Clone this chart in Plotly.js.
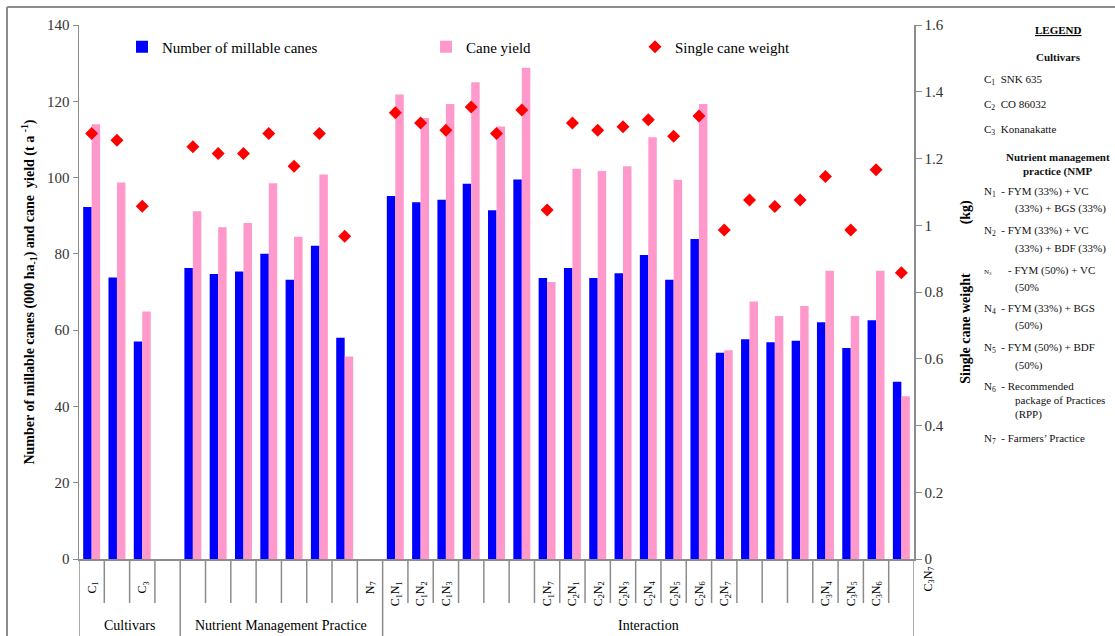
<!DOCTYPE html>
<html>
<head>
<meta charset="utf-8">
<script src="https://cdn.plot.ly/plotly-3.0.1.min.js"></script>
<style>html,body{margin:0;padding:0;background:#fff;}#chart{width:1115px;height:636px;}</style>
</head>
<body>
<div id="chart"></div>
<script>
// ---- data ----
const categories = ["C1","C2","C3","gap-a",
  "N1","N2","N3","N4","N5","N6","N7","gap-b",
  "C1N1","C1N2","C1N3","C1N4","C1N5","C1N6","C1N7",
  "C2N1","C2N2","C2N3","C2N4","C2N5","C2N6","C2N7",
  "C3N1","C3N2","C3N3","C3N4","C3N5","C3N6","C3N7"];
const millableCanes = [92.3, 73.8, 57.0, null,
  76.3, 74.7, 75.4, 80.0, 73.2, 82.1, 58.0, null,
  95.2, 93.5, 94.2, 98.4, 91.4, 99.5, 73.7,
  76.3, 73.7, 74.9, 79.7, 73.2, 83.9, 54.1,
  57.6, 56.8, 57.2, 62.1, 55.3, 62.6, 46.5];
const caneYield = [114.0, 98.7, 64.9, null,
  91.2, 87.0, 88.1, 98.5, 84.5, 100.8, 53.1, null,
  121.8, 115.6, 119.3, 125.0, 113.4, 128.8, 72.6,
  102.3, 101.7, 103.0, 110.6, 99.4, 119.3, 54.7,
  67.5, 63.7, 66.3, 75.6, 63.7, 75.6, 42.7];
const singleCaneWeight = [1.275, 1.255, 1.057, null,
  1.235, 1.215, 1.215, 1.275, 1.177, 1.275, 0.967, null,
  1.337, 1.306, 1.285, 1.354, 1.275, 1.345, 1.046,
  1.306, 1.285, 1.295, 1.316, 1.267, 1.327, 0.986,
  1.076, 1.056, 1.076, 1.146, 0.986, 1.166, 0.858];
// tick labels as they appear in the reference (only some categories labelled)
const tickCats = ["C1","C3","gap-b","C1N1","C1N2","C1N3",
  "C1N7","C2N1","C2N2","C2N3","C2N4","C2N5","C2N6","C2N7",
  "C3N4","C3N5","C3N6"];
const tickLabels = ["C<sub>1</sub>","C<sub>3</sub>","N<sub>7</sub>",
  "C<sub>1</sub>N<sub>1</sub>","C<sub>1</sub>N<sub>2</sub>","C<sub>1</sub>N<sub>3</sub>",
  "C<sub>1</sub>N<sub>7</sub>","C<sub>2</sub>N<sub>1</sub>","C<sub>2</sub>N<sub>2</sub>","C<sub>2</sub>N<sub>3</sub>",
  "C<sub>2</sub>N<sub>4</sub>","C<sub>2</sub>N<sub>5</sub>","C<sub>2</sub>N<sub>6</sub>","C<sub>2</sub>N<sub>7</sub>",
  "C<sub>3</sub>N<sub>4</sub>","C<sub>3</sub>N<sub>5</sub>","C<sub>3</sub>N<sub>6</sub>"];
const groupNames = ["Cultivars","Nutrient Management Practice","Interaction"];
const groupSizes = [4, 8, 21];
const legendTitle = "LEGEND";
const legendLines = [
  ["head","<b>Cultivars</b>"],
  ["item","C<sub>1</sub>  SNK 635"],
  ["item","C<sub>2</sub>  CO 86032"],
  ["item","C<sub>3</sub>  Konanakatte"],
  ["head","<b>Nutrient management</b>"],
  ["head2","<b>practice (NMP</b>"],
  ["item","N<sub>1</sub>  - FYM (33%) + VC"],
  ["cont","(33%) + BGS (33%)"],
  ["item","N<sub>2</sub>  - FYM (33%) + VC"],
  ["cont","(33%) + BDF (33%)"],
  ["item","<span style='font-size:7px'>N<sub>3</sub></span>      - FYM (50%) + VC"],
  ["cont","(50%"],
  ["item","N<sub>4</sub>  - FYM (33%) + BGS"],
  ["cont","(50%)"],
  ["item","N<sub>5</sub>  - FYM (50%) + BDF"],
  ["cont","(50%)"],
  ["item","N<sub>6</sub>  - Recommended"],
  ["cont","package of Practices"],
  ["cont2","(RPP)"],
  ["item","N<sub>7</sub>  - Farmers’ Practice"]
];
const legendLineY = [57,80,105,130,157,171,192,209,231,248,270,287,309,326,348,365,387,400,414,439];

// ---- layout helpers (pixel -> paper) ----
const L = 79, R = 914, T = 25, B = 559, W = 1115, H = 636;
const px = v => (v - L) / (R - L);
const py = v => (B - v) / (B - T);
const SERIF = "Liberation Serif";

const traces = [
  {type:"bar", name:"Number of millable canes", x:categories, y:millableCanes,
   marker:{color:"#0000FF"}, legend:"legend", hoverinfo:"x+y"},
  {type:"bar", name:"Cane yield", x:categories, y:caneYield,
   marker:{color:"#FF99CC"}, legend:"legend2", hoverinfo:"x+y"},
  {type:"scatter", mode:"markers", name:"Single cane weight", x:categories, y:singleCaneWeight,
   yaxis:"y2", marker:{symbol:"diamond", color:"#FF0000", size:10}, legend:"legend3", hoverinfo:"x+y"}
];

const shapes = [];
const n = categories.length;
// group boundaries
const bounds = [0];
groupSizes.forEach(s => bounds.push(bounds[bounds.length-1] + s));
for (let i = 0; i <= n; i++) {
  const xv = i - 0.5;
  const isLong = bounds.includes(i);
  shapes.push({type:"line", xref:"x", yref:"paper", x0:xv, x1:xv, y0:0,
    y1: isLong ? py(H) : py(603), line:{color:"#8c8c8c", width:1.5}});
}
// outer frame
shapes.push({type:"line", xref:"paper", yref:"paper", x0:px(7), x1:px(W), y0:py(7), y1:py(7), line:{color:"#8c8c8c", width:2}});
shapes.push({type:"line", xref:"paper", yref:"paper", x0:px(7), x1:px(7), y0:py(7), y1:py(H), line:{color:"#8c8c8c", width:2}});

const annotations = [];
// group labels
let start = 0;
groupSizes.forEach((s, gi) => {
  annotations.push({xref:"x", yref:"paper", x:start + s/2 - 0.5, y:py(625), text:groupNames[gi],
    showarrow:false, font:{family:SERIF, size:14, color:"#000"}, xanchor:"center", yanchor:"middle"});
  start += s;
});
// stray label beyond right axis
annotations.push({xref:"paper", yref:"paper", x:px(938), y:py(594), text:"C<sub>3</sub>N<sub>7</sub>", textangle:-90,
  showarrow:false, font:{family:SERIF, size:12, color:"#000"}});
// right-side legend block
annotations.push({xref:"paper", yref:"paper", x:px(1058), y:py(30), text:"<b><u>"+legendTitle+"</u></b>",
  showarrow:false, font:{family:SERIF, size:11, color:"#000"}, xanchor:"center", yanchor:"middle"});
legendLines.forEach((ln, i) => {
  const kind = ln[0];
  let x = 982, anchor = "left";
  if (kind === "head" || kind === "head2") { x = 1058; anchor = "center"; }
  if (kind === "cont") x = 1013;
  if (kind === "cont2") x = 1013;
  annotations.push({xref:"paper", yref:"paper", x:px(x), y:py(legendLineY[i]), text:ln[1],
    showarrow:false, font:{family:SERIF, size:11, color:"#111"}, xanchor:anchor, yanchor:"middle"});
});

const legendFont = {family:SERIF, size:15, color:"#000"};
const layout = {
  width:W, height:H,
  font:{family:SERIF},
  margin:{l:L, r:W-R, t:T, b:H-B, pad:0},
  paper_bgcolor:"#fff", plot_bgcolor:"#fff",
  barmode:"group", bargap:0.33, bargroupgap:0,
  showlegend:true,
  legend:{x:px(122), y:py(47), xanchor:"left", yanchor:"middle", orientation:"h", font:legendFont, itemwidth:30, bgcolor:"rgba(0,0,0,0)"},
  legend2:{x:px(426), y:py(47), xanchor:"left", yanchor:"middle", orientation:"h", font:legendFont, itemwidth:30, bgcolor:"rgba(0,0,0,0)"},
  legend3:{x:px(635), y:py(47), xanchor:"left", yanchor:"middle", orientation:"h", font:legendFont, itemwidth:30, bgcolor:"rgba(0,0,0,0)"},
  xaxis:{type:"category", categoryorder:"array", categoryarray:categories,
    tickmode:"array", tickvals:tickCats, ticktext:tickLabels, tickangle:-90,
    ticks:"", showline:true, linecolor:"#8c8c8c", linewidth:1.5, showgrid:false, zeroline:false,
    tickfont:{family:SERIF, size:12, color:"#000"}, ticklabelstandoff:16, range:[-0.5, n-0.5]},
  yaxis:{range:[0,140], dtick:20, showgrid:false, zeroline:false, showline:true, linecolor:"#8c8c8c", linewidth:1.5,
    ticks:"outside", ticklen:5, tickcolor:"#8c8c8c", tickfont:{family:SERIF, size:15, color:"#333"},
    title:{text:"<b>Number of millable canes (000 ha<sub>-1</sub>) and cane  yield (t a <sup>-1</sup>)</b>", font:{family:SERIF, size:14, color:"#000"}, standoff:9}},
  yaxis2:{overlaying:"y", side:"right", range:[0,1.6], dtick:0.2, showgrid:false, zeroline:false, showline:true,
    linecolor:"#8c8c8c", linewidth:1.5, ticks:"outside", ticklen:6, tickcolor:"#8c8c8c",
    tickfont:{family:SERIF, size:15, color:"#333"},
    title:{text:"<b>Single cane weight              (kg)</b>", font:{family:SERIF, size:14, color:"#000"}, standoff:17}},
  shapes:shapes,
  annotations:annotations
};

Plotly.newPlot("chart", traces, layout, {displayModeBar:false, staticPlot:true});
</script>
</body>
</html>
